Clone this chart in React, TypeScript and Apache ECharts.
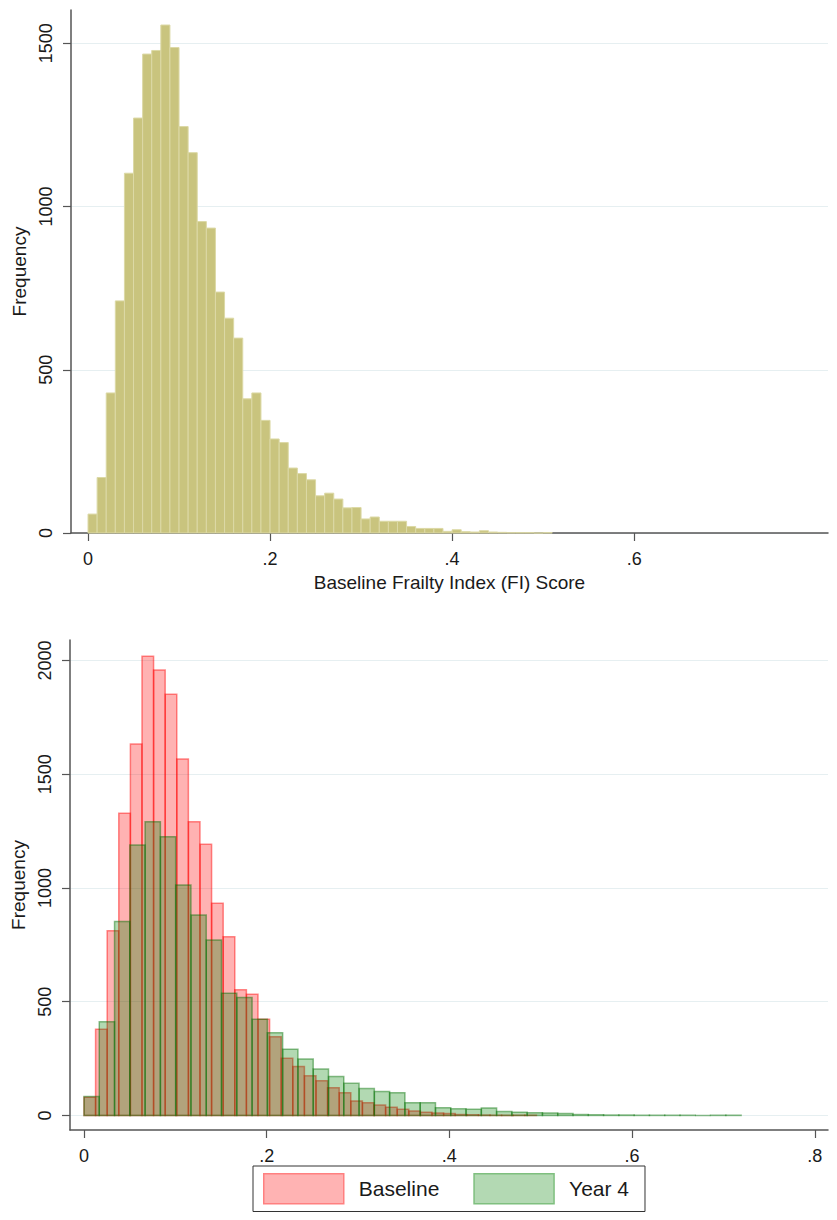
import React, { useEffect, useRef } from "react";
import * as echarts from "echarts";

// ---- data ----
const topBinStart = 0;
const topBinWidth = 0.01;
const topCounts = [
  58, 170, 429, 711, 1102, 1271, 1467, 1478, 1556, 1487,
  1245, 1165, 954, 934, 738, 658, 597, 411, 429, 345,
  288, 277, 199, 182, 163, 114, 122, 104, 77, 78,
  43, 49, 36, 36, 36, 20, 14, 14, 14, 5,
  10, 4, 3, 7, 3, 2, 1, 1, 1, 0, 1,
];

const baseBinStart = 0;
const baseBinWidth = 0.0127;
const baselineCounts = [
  80, 379, 812, 1328, 1633, 2019, 1958, 1852, 1567, 1291,
  1192, 933, 786, 552, 533, 423, 346, 251, 215, 174,
  153, 122, 100, 64, 56, 46, 36, 27, 20, 14,
  11, 8, 4, 3, 2, 1, 1, 1, 1,
];

const y4BinStart = 0;
const y4BinWidth = 0.01673;
const year4Counts = [
  83, 412, 852, 1189, 1291, 1225, 1013, 881, 771, 537,
  518, 423, 364, 291, 248, 204, 171, 141, 118, 105,
  100, 56, 56, 34, 29, 27, 33, 17, 14, 12,
  11, 8, 4, 3, 2, 2, 1, 1, 1, 1, 0, 1, 1,
];

const topXTicks = [0, 0.2, 0.4, 0.6];
const bottomXTicks = [0, 0.2, 0.4, 0.6, 0.8];
const topYTicks = [0, 500, 1000, 1500];
const bottomYTicks = [0, 500, 1000, 1500, 2000];
const seriesNames = ["Baseline", "Year 4"];
const topXTitle = "Baseline Frailty Index (FI) Score";
const yTitle = "Frequency";

const FONT = "Liberation Sans, Arial, sans-serif";

function toBins(start: number, width: number, counts: number[]) {
  return counts.map((c, i) => [start + i * width, c]);
}

function histRender(width: number, fill: string, stroke: string, lw: number) {
  return (params: any, api: any) => {
    const x0 = api.value(0);
    const v = api.value(1);
    const p0 = api.coord([x0, v]);
    const p1 = api.coord([x0 + width, 0]);
    return {
      type: "rect",
      shape: { x: p0[0], y: p0[1], width: p1[0] - p0[0], height: p1[1] - p0[1] },
      style: { fill, stroke, lineWidth: lw },
    };
  };
}

const xFmt = (v: number) => (v === 0 ? "0" : String(Number(v.toFixed(1))).replace(/^0/, ""));
const yFmt = (v: number) => String(Math.round(v));

export default function App() {
  const ref = useRef<HTMLDivElement>(null);
  useEffect(() => {
    if (!ref.current) return;
    const chart = echarts.init(ref.current, undefined, { renderer: "svg" });

    const axisLine = { show: true, onZero: false, lineStyle: { color: "#555", width: 1.5 } };
    const axisTick = (vals: number[]) => ({ show: true, length: 8, customValues: vals, lineStyle: { color: "#555", width: 1.2 } });
    const labelStyle = { fontFamily: FONT, fontSize: 18, color: "#1a1a1a" };
    const gridLine = { show: true, lineStyle: { color: "#e6eff1", width: 1 } };

    const topFill = "#c9c47e";
    const topStroke = "#dcd9a6";
    const redFill = "rgba(255,0,0,0.3)";
    const redStroke = "rgba(255,0,0,0.45)";
    const greenFill = "rgba(0,128,0,0.3)";
    const greenStroke = "rgba(0,110,0,0.45)";

    const option: any = {
      animation: false,
      grid: [
        { left: 71, right: 9, top: 10, bottom: 1220 - 533, containLabel: false, outerBoundsMode: "none" },
        { left: 70, right: 9, top: 640, bottom: 1220 - 1130, containLabel: false, outerBoundsMode: "none" },
      ],
      xAxis: [
        {
          type: "value", gridIndex: 0, min: -0.0187, max: 0.813,
          axisLine, axisTick: axisTick(topXTicks),
          axisLabel: { ...labelStyle, margin: 17, customValues: topXTicks, formatter: xFmt },
          splitLine: { show: false },
          name: topXTitle, nameLocation: "middle", nameGap: 40,
          nameTextStyle: { fontFamily: FONT, fontSize: 19, color: "#1a1a1a" },
        },
        {
          type: "value", gridIndex: 1, min: -0.0153, max: 0.8145,
          axisLine, axisTick: axisTick(bottomXTicks),
          axisLabel: { ...labelStyle, margin: 17, customValues: bottomXTicks, formatter: xFmt },
          splitLine: { show: false },
        },
      ],
      yAxis: [
        {
          type: "value", gridIndex: 0, min: 0, max: 1602,
          axisLine, axisTick: axisTick(topYTicks),
          axisLabel: { ...labelStyle, rotate: 90, margin: 16, customValues: topYTicks, formatter: yFmt },
          splitLine: gridLine,
          name: yTitle, nameLocation: "middle", nameGap: 42, nameRotate: 90,
          nameTextStyle: { fontFamily: FONT, fontSize: 19, color: "#1a1a1a" },
        },
        {
          type: "value", gridIndex: 1, min: -64, max: 2090,
          axisLine, axisTick: axisTick(bottomYTicks),
          axisLabel: { ...labelStyle, rotate: 90, margin: 16, customValues: bottomYTicks, formatter: yFmt },
          splitLine: gridLine,
          name: yTitle, nameLocation: "middle", nameGap: 42, nameRotate: 90,
          nameTextStyle: { fontFamily: FONT, fontSize: 19, color: "#1a1a1a" },
        },
      ],
      legend: {
        left: 253, top: 1166, orient: "horizontal",
        itemWidth: 80, itemHeight: 30, itemGap: 34,
        padding: [7, 16, 7, 10],
        borderColor: "#333", borderWidth: 1,
        icon: "rect",
        textStyle: { fontFamily: FONT, fontSize: 21, color: "#1a1a1a", padding: [0, 0, 0, 10] },
        data: [
          { name: seriesNames[0], itemStyle: { color: "#ffb3b3", borderColor: "#ff8080", borderWidth: 1.5 } },
          { name: seriesNames[1], itemStyle: { color: "#b3d9b3", borderColor: "#7fbf7f", borderWidth: 1.5 } },
        ],
      },
      series: [
        {
          type: "custom", xAxisIndex: 0, yAxisIndex: 0, name: "top",
          data: toBins(topBinStart, topBinWidth, topCounts),
          renderItem: histRender(topBinWidth, topFill, topStroke, 1),
          encode: { x: 0, y: 1 },
        },
        {
          type: "custom", xAxisIndex: 1, yAxisIndex: 1, name: seriesNames[0],
          data: toBins(baseBinStart, baseBinWidth, baselineCounts),
          renderItem: histRender(baseBinWidth, redFill, redStroke, 1.5),
          itemStyle: { color: "#ffb3b3", borderColor: "#ff8080" },
          encode: { x: 0, y: 1 },
        },
        {
          type: "custom", xAxisIndex: 1, yAxisIndex: 1, name: seriesNames[1],
          data: toBins(y4BinStart, y4BinWidth, year4Counts),
          renderItem: histRender(y4BinWidth, greenFill, greenStroke, 1.5),
          itemStyle: { color: "#b3d9b3", borderColor: "#7fbf7f" },
          encode: { x: 0, y: 1 },
        },
      ],
    };
    chart.setOption(option);
    return () => chart.dispose();
  }, []);
  return <div ref={ref} style={{ position: "absolute", left: 0, top: 0, width: 837, height: 1220, background: "#fff" }} />;
}
